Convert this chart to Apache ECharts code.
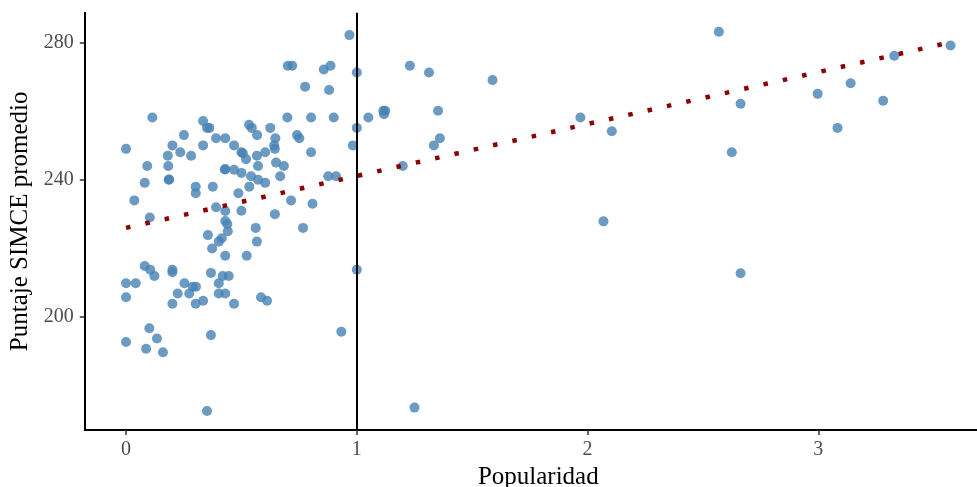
<!DOCTYPE html>
<html>
<head>
<meta charset="utf-8">
<script src="https://cdn.jsdelivr.net/npm/echarts@6/dist/echarts.min.js"></script>
<style>
html,body{margin:0;padding:0;background:#fff;}
#chart{width:977px;height:487px;}
</style>
</head>
<body>
<div id="chart"></div>
<script>
// Popularidad (x) values
const popularidad = [
0.968,0.701,0.720,0.857,0.886,1.000,0.776,0.880,0.114,0.699,
0.802,0.900,1.050,0.334,0.351,0.361,0.533,0.545,0.625,1.000,
0.251,0.390,0.430,0.568,0.647,0.741,0.751,0.000,0.201,0.334,
0.468,0.642,0.645,0.983,0.181,0.235,0.282,0.500,0.506,0.567,
0.603,0.802,0.520,0.092,0.183,0.572,0.650,0.684,0.430,0.428,
0.468,0.500,0.542,0.572,0.603,0.668,0.876,0.910,0.081,0.185,
0.187,0.302,0.302,0.376,0.534,0.487,0.036,0.390,0.430,0.500,
0.715,0.808,0.645,0.103,0.430,0.439,0.441,0.562,0.767,0.355,
0.415,0.402,0.567,0.373,0.430,0.523,1.000,0.081,0.105,0.123,
0.201,0.201,0.368,0.419,0.445,0.000,0.042,0.000,0.253,0.289,
0.303,0.274,0.224,0.201,0.302,0.334,0.402,0.402,0.430,0.468,
0.585,0.611,0.101,0.000,0.134,0.087,0.160,0.368,0.933,0.351,
1.230,1.313,1.588,1.115,1.123,1.118,1.352,1.360,1.334,1.199,
1.969,2.105,2.069,1.250,2.569,3.573,3.329,3.140,2.997,3.281,
2.663,3.083,2.625,2.663
];
// Puntaje SIMCE promedio (y) values
const simce = [
282.1,273.2,273.2,272.1,273.2,271.2,267.1,266.1,258.1,258.1,
258.1,258.1,258.1,257.1,255.1,255.1,256.0,255.1,255.1,255.1,
253.0,252.1,252.1,253.0,252.1,253.0,252.1,249.0,250.0,250.0,
250.0,250.0,249.0,250.0,247.0,248.0,247.0,248.0,247.7,247.0,
248.0,248.0,246.0,244.0,244.0,244.0,245.0,244.0,243.1,243.0,
242.9,242.0,241.0,240.0,239.1,241.0,241.0,241.0,239.1,240.0,
240.1,238.0,236.1,238.0,238.0,236.1,234.0,232.0,230.9,231.0,
234.0,233.0,230.0,229.0,228.0,227.1,225.0,226.0,226.0,223.9,
223.0,222.0,222.0,220.0,217.9,217.9,213.8,214.9,213.8,212.0,
213.8,213.1,212.9,212.0,212.0,209.9,209.9,205.8,209.9,208.9,
208.9,206.9,206.9,203.9,203.9,204.8,209.9,206.9,206.9,203.9,
205.8,204.8,196.8,192.8,193.8,190.8,189.8,194.8,195.8,172.7,
273.2,271.2,269.0,260.1,260.1,259.1,260.1,252.1,250.0,244.0,
258.1,254.1,227.9,173.7,283.1,279.1,276.1,268.1,265.0,263.0,
262.1,255.1,248.0,212.8
];
// Fitted linear trend (start / end)
const trendX = [0, 3.573];
const trendY = [226.0, 280.0];
// Reference vertical line
const vLineX = 1;
// Tick labels
const xTicks = [0, 1, 2, 3];
const yTicks = [200, 240, 280];

const points = popularidad.map((x, i) => [x, simce[i]]);
const trend = trendX.map((x, i) => [x, trendY[i]]);

function expand(arr) {
  const mn = Math.min(...arr), mx = Math.max(...arr);
  const r = mx - mn;
  return [mn - 0.05 * r, mx + 0.05 * r];
}
const [xMin, xMax] = expand(popularidad);
const [yMin, yMax] = expand(simce);

const serif = '"Liberation Serif", "DejaVu Serif", serif';

const chart = echarts.init(document.getElementById('chart'), null, {renderer: 'canvas'});
chart.setOption({
  animation: false,
  backgroundColor: '#ffffff',
  grid: {left: 84.8, top: 12.7, width: 907, height: 417.3, containLabel: false, outerBoundsMode: 'none'},
  xAxis: {
    type: 'value',
    min: xMin, max: xMax,
    name: 'Popularidad',
    nameLocation: 'middle',
    nameGap: 30,
    nameTextStyle: {fontFamily: serif, fontSize: 25, color: '#000'},
    axisLine: {show: true, onZero: false, lineStyle: {color: '#000', width: 2}},
    axisTick: {show: true, length: 5, customValues: xTicks, lineStyle: {color: '#333', width: 1.5}},
    axisLabel: {show: true, customValues: xTicks, margin: 10, fontFamily: serif, fontSize: 20, color: '#4d4d4d'},
    splitLine: {show: false}
  },
  yAxis: {
    type: 'value',
    min: yMin, max: yMax,
    name: 'Puntaje SIMCE promedio',
    nameLocation: 'middle',
    nameGap: 50,
    nameTextStyle: {fontFamily: serif, fontSize: 25, color: '#000'},
    axisLine: {show: true, onZero: false, lineStyle: {color: '#000', width: 2}},
    axisTick: {show: true, length: 5, customValues: yTicks, lineStyle: {color: '#333', width: 1.5}},
    axisLabel: {show: true, customValues: yTicks, margin: 11, fontFamily: serif, fontSize: 20, color: '#4d4d4d'},
    splitLine: {show: false}
  },
  series: [
    {
      type: 'scatter',
      data: points,
      symbol: 'circle',
      symbolSize: 10,
      itemStyle: {color: '#4682B4', opacity: 0.8},
      z: 2,
      markLine: {
        silent: true,
        symbol: 'none',
        label: {show: false},
        lineStyle: {color: '#000', width: 2, type: 'solid'},
        data: [{xAxis: vLineX}],
        z: 5
      }
    },
    {
      type: 'line',
      data: trend,
      showSymbol: false,
      symbol: 'none',
      lineStyle: {color: '#8B0000', width: 4.5, type: [4.5, 15.3], cap: 'butt'},
      z: 4
    }
  ]
});
</script>
</body>
</html>
